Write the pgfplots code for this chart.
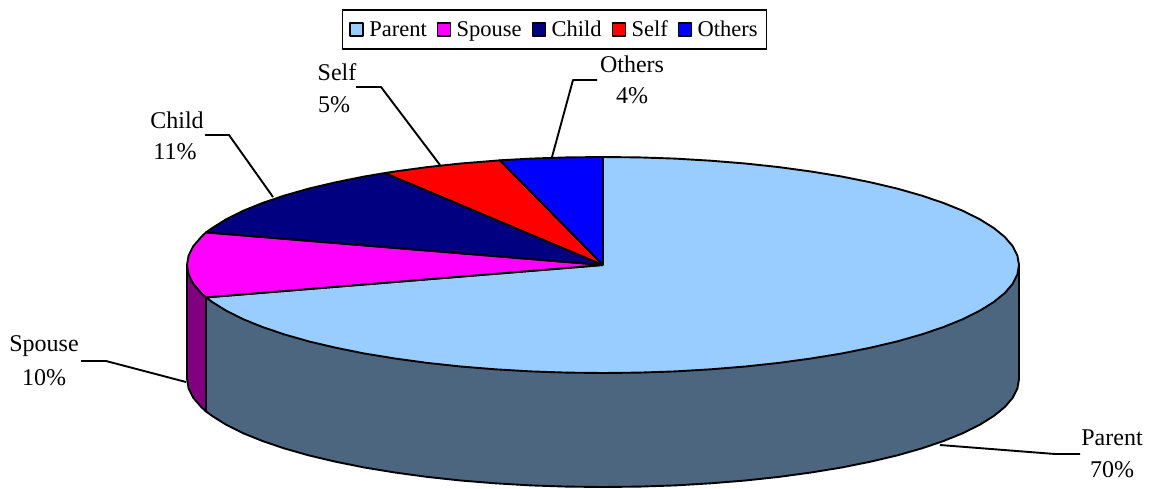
\documentclass[border=0pt]{standalone}
\usepackage{fontspec}
\setmainfont{Liberation Serif}
\usepackage{pgfplots}
\pgfplotsset{compat=1.18}
\definecolor{cparent}{HTML}{99CCFF}
\definecolor{cparentside}{HTML}{4D6680}
\definecolor{cspouse}{HTML}{FF00FF}
\definecolor{cspouseside}{HTML}{800080}
\definecolor{cchild}{HTML}{000080}
\definecolor{cself}{HTML}{FF0000}
\definecolor{cothers}{HTML}{0000FF}
\newcommand{\lbl}{\fontsize{24}{27}\selectfont}
\begin{document}
\begin{tikzpicture}
\useasboundingbox (0,0) rectangle (1155pt,488pt);
\begin{axis}[
  at={(0,0)}, anchor=south west,
  scale only axis, width=1155pt, height=488pt,
  xmin=0, xmax=1155, ymin=0, ymax=488, y dir=reverse,
  hide axis, clip=false,
  legend columns=5,
  legend style={at={(axis description cs:0.4801,0.9395)}, anchor=center, draw=black, line width=1.6pt,
    inner xsep=7pt, inner ysep=9pt, font=\fontsize{22.5}{26}\selectfont,
    /tikz/every even column/.append style={column sep=8pt},
    /tikz/every odd column/.append style={column sep=3.5pt}},
  legend image code/.code={\draw[#1, line width=1.4pt] (0pt,-6.5pt) rectangle (13pt,6.5pt);},
  every axis plot/.append style={line width=1.9pt, line join=round},
]
% sides
\addplot[forget plot, draw=black, fill=cparentside] coordinates {
(1019,265)(1019,379)(1017.4,388.4)(1012.7,397.8)(1004.8,407)(993.9,415.9)(980,424.6)(963.3,433)(943.8,440.9)(921.7,448.4)(897.2,455.4)(870.4,461.7)(841.6,467.5)(811,472.5)(778.8,476.9)(745.3,480.5)(710.7,483.3)(675.2,485.4)(639.3,486.6)(603,487)(566.7,486.6)(530.8,485.4)(495.3,483.3)(460.7,480.5)(427.2,476.9)(395,472.5)(364.4,467.5)(335.6,461.7)(308.8,455.4)(284.3,448.4)(262.2,440.9)(242.7,433)(226,424.6)(212.1,415.9)(206,411.4)(206,297.4)(603,265)(1019,265)};
\addplot[forget plot, draw=black, fill=cspouseside] coordinates {
(206,297.4)(201.2,293)(193.3,283.8)(188.6,274.4)(187,265)(187,379)(188.6,388.4)(193.3,397.8)(201.2,407)(206,411.4)(206,297.4)};
% tops
\addplot[draw=black, fill=cparent] coordinates {
(603,265)(603,157)(639.3,157.4)(675.2,158.6)(710.7,160.7)(745.3,163.5)(778.8,167.1)(811,171.5)(841.6,176.5)(870.4,182.3)(897.2,188.6)(921.7,195.6)(943.8,203.1)(963.3,211)(980,219.4)(993.9,228.1)(1004.8,237)(1012.7,246.2)(1017.4,255.6)(1019,265)(1017.4,274.4)(1012.7,283.8)(1004.8,293)(993.9,301.9)(980,310.6)(963.3,319)(943.8,326.9)(921.7,334.4)(897.2,341.4)(870.4,347.7)(841.6,353.5)(811,358.5)(778.8,362.9)(745.3,366.5)(710.7,369.3)(675.2,371.4)(639.3,372.6)(603,373)(566.7,372.6)(530.8,371.4)(495.3,369.3)(460.7,366.5)(427.2,362.9)(395,358.5)(364.4,353.5)(335.6,347.7)(308.8,341.4)(284.3,334.4)(262.2,326.9)(242.7,319)(226,310.6)(212.1,301.9)(206,297.4)(603,265)};
\addlegendentry{Parent}
\addplot[draw=black, fill=cspouse] coordinates {
(603,265)(206,297.4)(201.2,293)(193.3,283.8)(188.6,274.4)(187,265)(188.6,255.6)(193.3,246.2)(201.2,237)(206,232.4)(603,265)};
\addlegendentry{Spouse}
\addplot[draw=black, fill=cchild] coordinates {
(603,265)(206,232.4)(212.1,228.1)(226,219.4)(242.7,211)(262.2,203.1)(284.3,195.6)(308.8,188.6)(335.6,182.3)(364.4,176.5)(385,173)(603,265)};
\addlegendentry{Child}
\addplot[draw=black, fill=cself] coordinates {
(603,265)(385,173)(395,171.5)(427.2,167.1)(460.7,163.5)(495.3,160.7)(500,160.3)(603,265)};
\addlegendentry{Self}
\addplot[draw=black, fill=cothers] coordinates {
(603,265)(500,160.3)(530.8,158.6)(566.7,157.4)(603,157)(603,265)};
\addlegendentry{Others}
% leader lines
\addplot[forget plot, black] coordinates {(552,157)(573,80)(597,80)};
\addplot[forget plot, black] coordinates {(440,165)(381,87)(356,87)};
\addplot[forget plot, black] coordinates {(273,197)(229,135)(205,135)};
\addplot[forget plot, black] coordinates {(186,382)(106,361)(81,361)};
\addplot[forget plot, black] coordinates {(940,445)(1055,454)(1080,454)};
% labels
\node[font=\lbl] at (axis cs:632,64) {Others};
\node[font=\lbl] at (axis cs:632,96) {4\%};
\node[font=\lbl] at (axis cs:337,72) {Self};
\node[font=\lbl] at (axis cs:334,105) {5\%};
\node[font=\lbl] at (axis cs:177,120) {Child};
\node[font=\lbl] at (axis cs:175,152) {11\%};
\node[font=\lbl] at (axis cs:44,346) {Spouse};
\node[font=\lbl] at (axis cs:44,378) {10\%};
\node[font=\lbl] at (axis cs:1112,438) {Parent};
\node[font=\lbl] at (axis cs:1112,470) {70\%};
\end{axis}
\end{tikzpicture}
\end{document}
